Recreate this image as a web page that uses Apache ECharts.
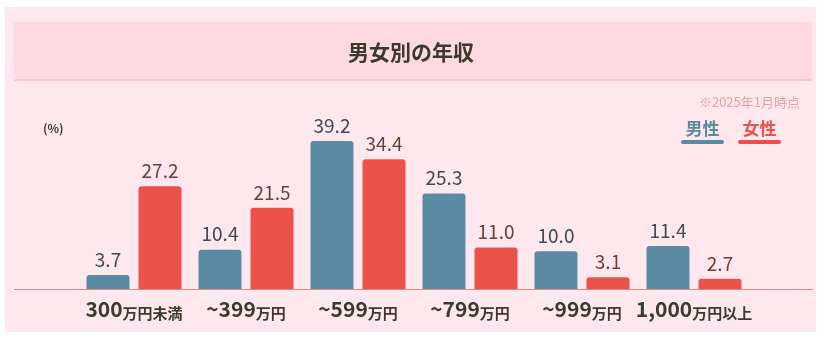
<!DOCTYPE html>
<html>
<head>
<meta charset="utf-8">
<script src="https://cdn.jsdelivr.net/npm/echarts@6/dist/echarts.min.js"></script>
<style>
html,body{margin:0;padding:0;background:#ffffff;}
#chart{width:822px;height:338px;}
</style>
</head>
<body>
<div id="chart"></div>
<script>
var categories = ['300万円未満', '~399万円', '~599万円', '~799万円', '~999万円', '1,000万円以上'];
var catNumbers = ['300', '~399', '~599', '~799', '~999', '1,000'];
var catUnits = ['万円未満', '万円', '万円', '万円', '万円', '万円以上'];
var maleValues = [3.7, 10.4, 39.2, 25.3, 10.0, 11.4];
var femaleValues = [27.2, 21.5, 34.4, 11.0, 3.1, 2.7];
var seriesNames = ['男性', '女性'];

var FONT = '"Noto Sans CJK JP", "Noto Sans", sans-serif';
var BLUE = '#5b8ba3';
var RED = '#ea534a';

var chart = echarts.init(document.getElementById('chart'));
chart.setOption({
  animation: false,
  textStyle: { fontFamily: FONT },
  graphic: [
    { type: 'rect', z: -10, silent: true, shape: { x: 5, y: 7, width: 811, height: 325 }, style: { fill: '#fee8ee' } },
    { type: 'rect', z: -9, silent: true, shape: { x: 14, y: 22, width: 798, height: 58 }, style: { fill: '#fed9e1' } },
    { type: 'rect', z: -8, silent: true, shape: { x: 14, y: 79, width: 798, height: 2 }, style: { fill: '#f9c6d1' } },
    { type: 'line', z: 1, silent: true, shape: { x1: 14, y1: 289.5, x2: 813, y2: 289.5 }, style: { stroke: '#d98c8c', lineWidth: 1 } },
    { type: 'text', left: 43, top: 122, style: { text: '(%)', fontFamily: FONT, fontSize: 12, fontWeight: 'bold', fill: '#3b3b35' } }
  ],
  title: [
    { text: '男女別の年収', left: 'center', top: 37, textStyle: { fontFamily: FONT, fontSize: 21, fontWeight: 'bold', color: '#3a3a2e' } },
    { text: '※2025年1月時点', right: 17, top: 91, textStyle: { fontFamily: FONT, fontSize: 13, fontWeight: 'normal', color: '#e6a3a0' } }
  ],
  legend: {
    right: 36,
    top: 115,
    icon: 'none',
    itemWidth: 0,
    itemHeight: 0,
    itemGap: 9,
    data: seriesNames,
    formatter: function (name) {
      return name === '男性' ? '{m|男性}\n{mu|}' : '{f|女性}\n{fu|}';
    },
    textStyle: {
      rich: {
        m: { fontFamily: FONT, fontSize: 17, fontWeight: 'bold', color: BLUE, align: 'center', width: 43, lineHeight: 21 },
        f: { fontFamily: FONT, fontSize: 17, fontWeight: 'bold', color: RED, align: 'center', width: 43, lineHeight: 21 },
        mu: { backgroundColor: BLUE, width: 43, height: 4, borderRadius: 2, lineHeight: 6 },
        fu: { backgroundColor: RED, width: 43, height: 4, borderRadius: 2, lineHeight: 6 }
      }
    }
  },
  grid: { left: 78, right: 72, top: 138, bottom: 49, containLabel: false },
  xAxis: {
    type: 'category',
    data: categories,
    axisLine: { show: false },
    axisTick: { show: false },
    axisLabel: {
      margin: 8,
      interval: 0,
      formatter: function (v, i) {
        return '{n|' + catNumbers[i] + '}{u|' + catUnits[i] + '}';
      },
      rich: {
        n: { fontFamily: FONT, fontSize: 21, fontWeight: 'bold', color: '#3a3a2e', lineHeight: 24 },
        u: { fontFamily: FONT, fontSize: 15, fontWeight: 'bold', color: '#3a3a2e', lineHeight: 24, verticalAlign: 'bottom' }
      }
    }
  },
  yAxis: { type: 'value', min: 0, max: 40, show: false, splitLine: { show: false } },
  series: [
    {
      name: seriesNames[0], type: 'bar', data: maleValues, barWidth: 43, barGap: '21%',
      itemStyle: { color: BLUE, borderRadius: [3, 3, 0, 0] },
      label: { show: true, position: 'top', distance: 6, fontFamily: FONT, fontSize: 19, color: '#3d4b52', formatter: function (p) { return p.value.toFixed(1); } }
    },
    {
      name: seriesNames[1], type: 'bar', data: femaleValues, barWidth: 43,
      itemStyle: { color: RED, borderRadius: [3, 3, 0, 0] },
      label: { show: true, position: 'top', distance: 6, fontFamily: FONT, fontSize: 19, color: '#6a3f36', formatter: function (p) { return p.value.toFixed(1); } }
    }
  ]
});
</script>
</body>
</html>
